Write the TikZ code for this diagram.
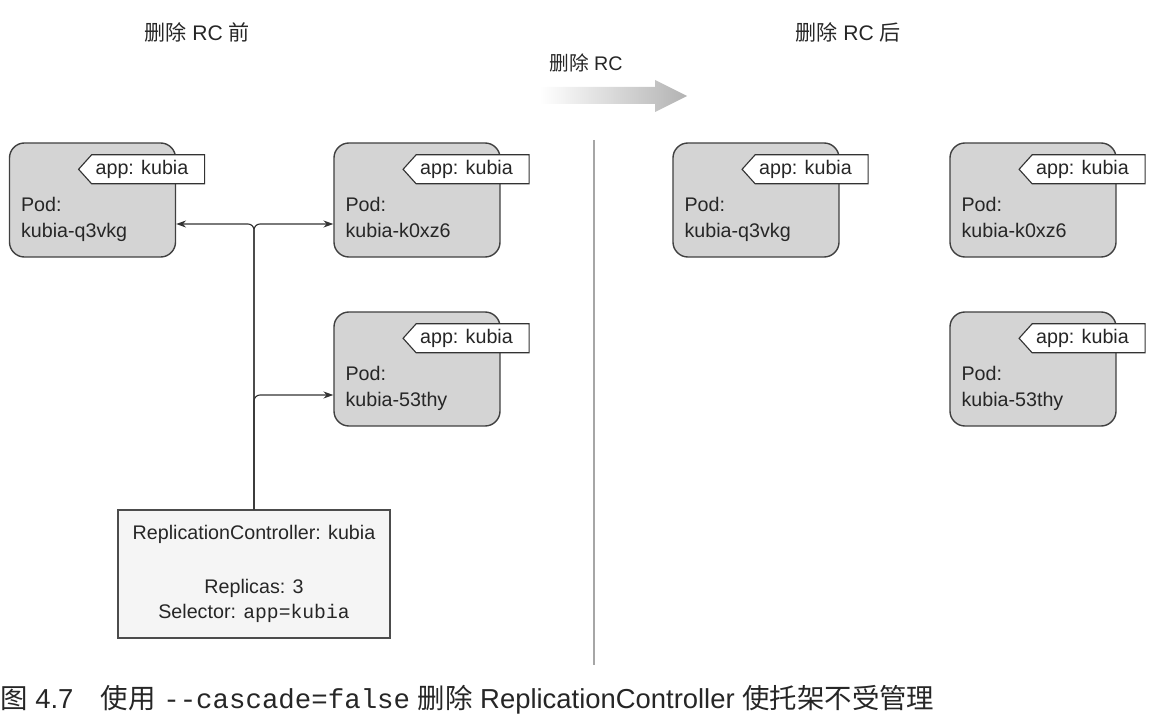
\documentclass[tikz,border=0pt]{standalone}
\usepackage{fontspec}
\setmainfont{Liberation Sans}
\setmonofont{Liberation Mono}
\newfontfamily\cjk{Noto Sans CJK SC}
\usetikzlibrary{shapes.symbols,arrows.meta}
\tikzset{
  pod/.style={draw=black!75,line width=1pt,fill=black!17,rounded corners=0.375cm,minimum width=4.15cm,minimum height=2.85cm},
  podtxt/.style={align=left,inner sep=0,anchor=north west,text=black!85,font=\fontsize{14}{18.5}\selectfont},
  lbl/.style={signal,signal to=west,signal pointer angle=96,draw=black!80,line width=0.8pt,fill=white,minimum height=0.725cm,inner xsep=0.1cm,text width=2.625cm,align=flush left,anchor=east,text=black!85,font=\fontsize{14}{17}\selectfont},
  rcbox/.style={draw=black!70,line width=0.8pt,fill=black!4,minimum width=6.8cm,minimum height=3.2cm,align=center,text=black!85,font=\fontsize{14}{17.8}\selectfont},
  conn/.style={-{Stealth[length=7pt,width=5pt]},line width=0.8pt,rounded corners=0.15cm,black!80},
  heading/.style={text=black!85,font=\fontsize{15}{18}\selectfont}
}
\begin{document}
\begin{tikzpicture}[x=0.025cm,y=-0.025cm]
\useasboundingbox(0,0) rectangle (1170,722);
\node[heading](before) at (197,32){{\cjk 删除} RC {\cjk 前}};
\node[heading](after) at (848,32){{\cjk 删除} RC {\cjk 后}};
\node[text=black!85,font=\fontsize{14}{17}\selectfont](del) at (586,63){{\cjk 删除} RC};
\shade[left color=white,right color=black!30](540,87)--(655,87)--(655,80)--(687,96)--(655,112)--(655,104)--(540,104)--cycle;
\draw[black!35,line width=1.5pt](594,140)--(594,665);
\node[pod](pq3vkg) at (92.5,200){};
\node[pod](pk0xz6) at (417,200){};
\node[pod](p53thy) at (417,369){};
\node[pod](nq3vkg) at (756,200){};
\node[pod](nk0xz6) at (1033,200){};
\node[pod](n53thy) at (1033,369){};
\node[lbl](pq3vkg-l) at ([shift={(29,27)}]pq3vkg.north east){app: kubia};
\node[lbl](pk0xz6-l) at ([shift={(29,27)}]pk0xz6.north east){app: kubia};
\node[lbl](p53thy-l) at ([shift={(29,27)}]p53thy.north east){app: kubia};
\node[lbl](nq3vkg-l) at ([shift={(29,27)}]nq3vkg.north east){app: kubia};
\node[lbl](nk0xz6-l) at ([shift={(29,27)}]nk0xz6.north east){app: kubia};
\node[lbl](n53thy-l) at ([shift={(29,27)}]n53thy.north east){app: kubia};
\node[podtxt](pq3vkg-t) at ([shift={(12,55)}]pq3vkg.north west){Pod:\\kubia-q3vkg};
\node[podtxt](pk0xz6-t) at ([shift={(12,55)}]pk0xz6.north west){Pod:\\kubia-k0xz6};
\node[podtxt](p53thy-t) at ([shift={(12,55)}]p53thy.north west){Pod:\\kubia-53thy};
\node[podtxt](nq3vkg-t) at ([shift={(12,55)}]nq3vkg.north west){Pod:\\kubia-q3vkg};
\node[podtxt](nk0xz6-t) at ([shift={(12,55)}]nk0xz6.north west){Pod:\\kubia-k0xz6};
\node[podtxt](n53thy-t) at ([shift={(12,55)}]n53thy.north west){Pod:\\kubia-53thy};
\node[rcbox](rc) at (254,574){ReplicationController: kubia\\[21pt]Replicas: 3\\Selector: \texttt{app=kubia}};
\coordinate(fork) at (254,224);
\coordinate(fork3) at (254,395);
\draw[conn](rc.north)|-(pq3vkg.east|-fork);
\draw[conn](rc.north)|-(pk0xz6.west|-fork);
\draw[conn](rc.north)|-(p53thy.west|-fork3);
\node[anchor=west,inner sep=0,text=black!85,font=\fontsize{19.5}{23}\selectfont](cap) at (0,700){{\cjk 图} 4.7\quad{\cjk 使用} \texttt{-{}-cascade=false} {\cjk 删除} ReplicationController {\cjk 使托架不受管理}};
\end{tikzpicture}
\end{document}
